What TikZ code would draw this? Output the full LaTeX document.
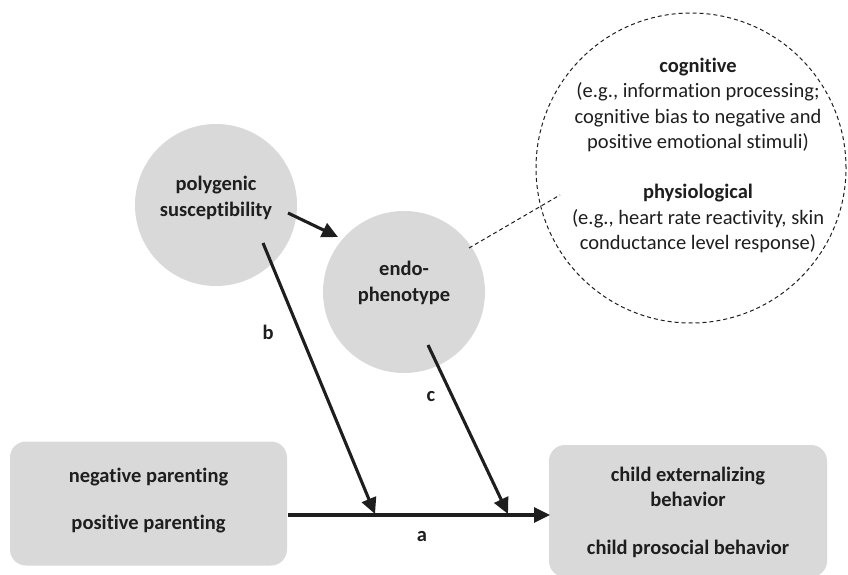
\documentclass[tikz,border=0pt]{standalone}
\usepackage{fontspec}
\setmainfont{Carlito}[RawFeature={-liga;-clig}]
\usetikzlibrary{arrows.meta}
\definecolor{boxgray}{HTML}{D9D9D9}
\definecolor{ink}{HTML}{1E1E1E}
\begin{document}
\begin{tikzpicture}[x=1pt,y=-1pt,
  txt/.style={font=\fontsize{20.5}{25.5}\selectfont, text=ink, align=center, inner sep=0pt},
  btxt/.style={txt, font=\fontsize{20.5}{25.5}\selectfont\bfseries},
  blob/.style={circle, fill=boxgray, draw=none, minimum size=162pt, inner sep=0pt},
  rbox/.style={rectangle, rounded corners=16pt, fill=boxgray, draw=none, inner sep=0pt},
  arr/.style={draw=ink, line width=3.1pt, -{Triangle[length=16pt,width=15pt]}},
  dashline/.style={draw=ink, line width=1pt, dash pattern=on 4pt off 3pt}
]
\useasboundingbox (0,0) rectangle (848,575);
% boxes
\node[rbox, minimum width=277pt, minimum height=124pt] (left) at (148.5,503.5) {};
\node[rbox, minimum width=278pt, minimum height=132pt] (right) at (688,511) {};
\node[btxt] (tneg) at (148.5,477) {negative parenting};
\node[btxt] (tpos) at (148.5,524) {positive parenting};
\node[btxt] (tch) at (688,487) {child externalizing\\behavior};
\node[btxt] (tpro) at (688,549) {child prosocial behavior};
% circles
\node[blob] (poly) at (216,205) {};
\node[blob] (endo) at (404,292) {};
\node[btxt] (tpoly) at (216,198) {polygenic\\susceptibility};
\node[btxt] (tendo) at (404,283) {endo-\\phenotype};
% dashed circle
\node[circle, dashline, minimum size=310pt, inner sep=0pt] (cloud) at (691,168) {};
\node[txt] (tcog) at (698,105) {\textbf{cognitive}\\(e.g., information processing;\\cognitive bias to negative and\\positive emotional stimuli)};
\node[txt] (tphys) at (698,218.5) {\textbf{physiological}\\(e.g., heart rate reactivity, skin\\conductance level response)};
% connector coordinates
\coordinate (pa) at (288,213);
\coordinate (pb) at (338,237);
\coordinate (bs) at (263,243);
\coordinate (be) at (375,514);
\coordinate (cs) at (428,345);
\coordinate (ce) at (508,514);
\coordinate (as) at (288,515);
\coordinate (ae) at (550,515);
\coordinate (ds) at (469,248);
\coordinate (de) at (560,195);
% connectors
\draw[arr] (pa) -- (pb);
\draw[arr] (bs) -- (be);
\draw[arr] (cs) -- (ce);
\draw[arr] (as) -- (ae);
\draw[dashline] (ds) -- (de);
% labels
\node[btxt] (la) at (422,537) {a};
\node[btxt] (lb) at (268,332) {b};
\node[btxt] (lc) at (431,397) {c};
\end{tikzpicture}
\end{document}
